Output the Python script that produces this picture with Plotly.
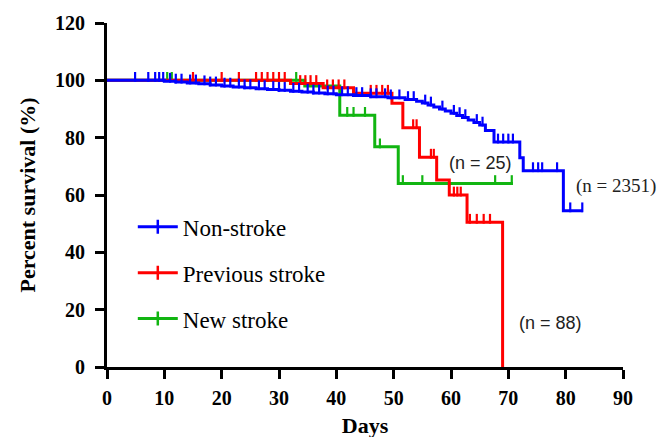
import numpy as np
import plotly.graph_objects as go

# ---- data ----
non_t = [0, 10, 12, 14, 16, 18, 20, 22, 24, 26, 28, 30, 32, 34, 36, 38, 40, 43, 46, 49,
         52, 54, 55, 56, 57, 58, 59, 60, 61, 62, 63, 64, 65, 66, 67.5, 72, 72.6, 79.6, 83]
non_s = [100, 99.7, 99.4, 99.1, 98.8, 98.4, 98.0, 97.7, 97.4, 97.1, 96.8, 96.5, 96.2, 95.9,
         95.6, 95.3, 95.0, 94.7, 94.3, 93.9, 93.3, 92.7, 92.1, 91.4, 90.7, 90.0, 89.3, 88.5,
         87.7, 87.0, 86.2, 85.3, 84.4, 82.5, 78.5, 73.0, 68.5, 54.5, 54.5]
non_cens = [4.9, 7.2, 8.4, 9.1, 9.8, 11, 12, 13, 14.5, 15.5, 17, 18, 19, 20.5, 21.5, 23, 24,
            25, 26.5, 27.5, 29, 30, 31, 32.5, 33.5, 35, 36, 37, 38.5, 39.5, 41, 42, 43.5,
            44.5, 46, 47, 48.5, 49.5, 51, 52.5, 53.5, 55.5, 56.5, 58.5, 60.5, 61.5, 62.5,
            64.5, 65.5, 68.2, 69.1, 70, 70.8, 74.3, 75.2, 75.9, 78.5, 80.8, 82.9]

prev_t = [0, 32, 37.7, 43, 49.7, 51.6, 54.5, 57.5, 59.7, 62.8, 69]
prev_s = [100, 98.9, 97.4, 95.5, 92.0, 83.5, 73.2, 65.2, 60.0, 50.5, 0]
prev_cens = [15, 20, 23, 26, 27, 28, 29, 30, 31, 33.7, 34.6, 35.5, 36.5, 38.4, 39.4, 40.4,
             41.4, 46, 47, 48, 49, 53.4, 54, 56.5, 57, 60.5, 61.1, 61.7, 63.3, 64.5, 65.7, 66.8]

new_t = [0, 34.5, 40.6, 46.7, 50.8, 70.8]
new_s = [100, 98.0, 87.8, 76.8, 64.0, 64.0]
new_cens = [10.5, 11.3, 33, 41.9, 43, 45, 47.6, 51.6, 55, 67.7, 70.6]

names = ["Non-stroke", "Previous stroke", "New stroke"]
colors = ["#0000FF", "#FF0000", "#11B511"]

x_ticks = [0, 10, 20, 30, 40, 50, 60, 70, 80, 90]
y_ticks = [0, 20, 40, 60, 80, 100, 120]


def surv_at(t, s, times):
    idx = np.searchsorted(np.array(t), np.array(times), side="right") - 1
    return np.array(s)[idx]


groups = [(new_t, new_s, new_cens, 2), (prev_t, prev_s, prev_cens, 1), (non_t, non_s, non_cens, 0)]

fig = go.Figure()
TICK_UP = 1.2  # raise censor ticks so they sit on top of the line
for t, s, cens, k in groups:
    fig.add_trace(go.Scatter(x=t, y=s, mode="lines", line=dict(color=colors[k], width=3, shape="hv"),
                             showlegend=False, cliponaxis=False))
    cy = surv_at(t, s, cens) + TICK_UP
    fig.add_trace(go.Scatter(x=cens, y=cy, mode="markers",
                             marker=dict(symbol="line-ns", size=7, line=dict(color=colors[k], width=2.2)),
                             showlegend=False, cliponaxis=False))

for k in range(3):
    fig.add_trace(go.Scatter(x=[None], y=[None], mode="lines+markers", name=names[k],
                             legendgroup=names[k],
                             line=dict(color=colors[k], width=3),
                             marker=dict(symbol="line-ns", size=10, line=dict(color=colors[k], width=2.5))))

fig.add_annotation(x=65.1, y=71.2, text="(n = 25)", showarrow=False,
                   font=dict(family="Liberation Sans", size=18, color="#222"))
fig.add_annotation(x=81.4, y=63.1, text="(n = 2351)", showarrow=False, xanchor="left",
                   font=dict(family="Liberation Serif", size=19, color="#222"))
fig.add_annotation(x=77.3, y=15.3, text="(n = 88)", showarrow=False,
                   font=dict(family="Liberation Sans", size=18, color="#222"))

axis_common = dict(showgrid=False, zeroline=False, showline=True, linecolor="black", linewidth=3,
                   ticks="outside", ticklen=9, tickwidth=3, tickcolor="black",
                   tickfont=dict(family="Liberation Serif", size=20, color="black", weight="bold"))

fig.update_layout(
    width=672, height=437,
    margin=dict(l=99, r=57, t=15, b=78, autoexpand=False),
    paper_bgcolor="white", plot_bgcolor="white",
    xaxis=dict(range=[0, 90], tickvals=x_ticks, ticktext=[str(v) for v in x_ticks],
               ticklabelstandoff=2,
               title=dict(text="<b>Days</b>", font=dict(family="Liberation Serif", size=22, color="black"),
                          standoff=10),
               **axis_common),
    yaxis=dict(range=[0, 120], tickvals=y_ticks, ticktext=[str(v) for v in y_ticks],
               ticklabelstandoff=6,
               title=dict(text="<b>Percent survival (%)</b>",
                          font=dict(family="Liberation Serif", size=22, color="black"), standoff=14),
               **axis_common),
    legend=dict(x=0.05, y=0.47, xanchor="left", yanchor="top", bgcolor="rgba(0,0,0,0)",
                font=dict(family="Liberation Serif", size=23, color="black"),
                itemwidth=40, tracegroupgap=13, traceorder="grouped"),
    showlegend=True,
)

fig.write_html("out.html")
